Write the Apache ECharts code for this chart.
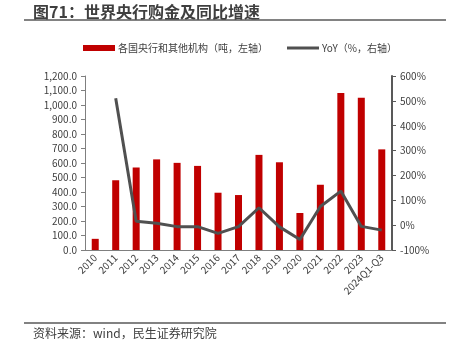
<!DOCTYPE html>
<html>
<head>
<meta charset="utf-8">
<script src="https://cdn.jsdelivr.net/npm/echarts@6/dist/echarts.min.js"></script>
<style>
html,body{margin:0;padding:0;background:#fff;}
#chart{width:455px;height:359px;}
</style>
</head>
<body>
<div id="chart"></div>
<script>
var categories = ['2010','2011','2012','2013','2014','2015','2016','2017','2018','2019','2020','2021','2022','2023','2024Q1-Q3'];
var purchases = [77, 481, 569, 625, 601, 580, 395, 379, 656, 605, 255, 450, 1082, 1050, 694];
var yoy = [null, 510, 16, 8, -6, -6, -33, -6, 70, -7, -58, 75, 137, -5, -20];
var leftTicks = {min: 0, max: 1200, interval: 100};
var rightTicks = {min: -100, max: 600, interval: 100};
var barName = '各国央行和其他机构（吨，左轴）';
var lineName = 'YoY（%，右轴）';

var FONT = '"Noto Sans CJK SC", "Noto Sans", sans-serif';
var chart = echarts.init(document.getElementById('chart'), null, {renderer: 'canvas'});
chart.setOption({
  backgroundColor: '#fff',
  animation: false,
  textStyle: {fontFamily: FONT},
  grid: {left: 85, right: 63, top: 76, bottom: 109, containLabel: false},
  legend: [
    {data: [barName], left: 83, top: 43, padding: 0, itemWidth: 32, itemHeight: 6, icon: 'rect',
     textStyle: {fontSize: 10, color: '#404040', fontFamily: FONT, padding: [0,0,0,-2]}},
    {data: [lineName], left: 287, top: 43, padding: 0, itemWidth: 32, itemHeight: 3, icon: 'rect',
     textStyle: {fontSize: 10, color: '#404040', fontFamily: FONT, padding: [0,0,0,-2]}}
  ],
  xAxis: {
    type: 'category',
    data: categories,
    axisLine: {lineStyle: {color: '#7f7f7f', width: 1}},
    axisTick: {show: false},
    axisLabel: {rotate: 45, fontSize: 10, color: '#404040', margin: 6, interval: 0, fontFamily: FONT}
  },
  yAxis: [
    {type: 'value', min: leftTicks.min, max: leftTicks.max, interval: leftTicks.interval,
     axisLine: {show: true, lineStyle: {color: '#7f7f7f', width: 1}},
     axisTick: {show: true, length: 4, lineStyle: {color: '#7f7f7f'}},
     splitLine: {show: false},
     axisLabel: {fontSize: 10, color: '#404040', margin: 8, fontFamily: FONT,
       formatter: function (v) { return v.toLocaleString('en-US', {minimumFractionDigits: 1, maximumFractionDigits: 1}); }}},
    {type: 'value', min: rightTicks.min, max: rightTicks.max, interval: rightTicks.interval, position: 'right',
     axisLine: {show: true, lineStyle: {color: '#595959', width: 2}},
     axisTick: {show: true, length: 4, lineStyle: {color: '#595959'}},
     splitLine: {show: false},
     axisLabel: {fontSize: 10, color: '#404040', margin: 8, fontFamily: FONT, formatter: '{value}%'}}
  ],
  series: [
    {name: barName, type: 'bar', data: purchases, barWidth: 7, yAxisIndex: 0,
     itemStyle: {color: '#C00000'}},
    {name: lineName, type: 'line', data: yoy, yAxisIndex: 1, symbol: 'none',
     lineStyle: {color: '#505050', width: 3}, itemStyle: {color: '#505050'}, connectNulls: false}
  ],
  graphic: [
    {type: 'text', left: 33, top: 4, style: {text: '图71：世界央行购金及同比增速', font: 'bold 16px ' + FONT, fill: '#3f3f3f'}},
    {type: 'line', shape: {x1: 24, y1: 20, x2: 446, y2: 20}, style: {stroke: '#595959', lineWidth: 1.5}},
    {type: 'line', shape: {x1: 24, y1: 323, x2: 446, y2: 323}, style: {stroke: '#595959', lineWidth: 1.5}},
    {type: 'text', left: 33, top: 327, style: {text: '资料来源：wind，民生证券研究院', font: '12px ' + FONT, fill: '#404040'}}
  ]
});
</script>
</body>
</html>
